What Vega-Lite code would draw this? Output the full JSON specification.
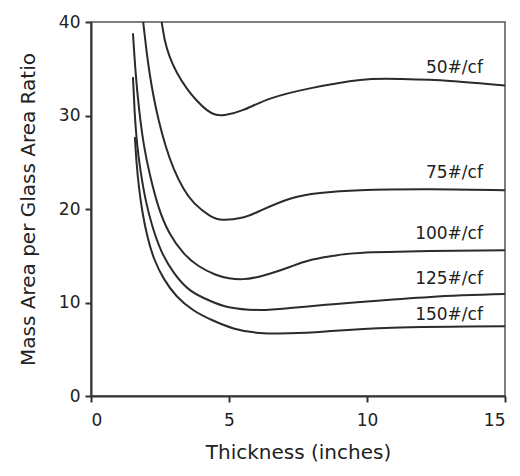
{
  "$schema": "https://vega.github.io/schema/vega-lite/v6.json",
  "autosize": {"type": "none"},
  "padding": {"left": 91, "top": 22, "right": 15, "bottom": 80},
  "width": 414,
  "height": 374,
  "background": "white",
  "datasets": {
    "curves": [
      {"series": "50", "x": 2.56, "y": 40.0},
      {"series": "50", "x": 2.68, "y": 38.0},
      {"series": "50", "x": 2.85, "y": 36.3},
      {"series": "50", "x": 3.11, "y": 34.6},
      {"series": "50", "x": 3.47, "y": 32.9},
      {"series": "50", "x": 3.83, "y": 31.6},
      {"series": "50", "x": 4.19, "y": 30.6},
      {"series": "50", "x": 4.5, "y": 30.1},
      {"series": "50", "x": 4.85, "y": 30.05},
      {"series": "50", "x": 5.52, "y": 30.6},
      {"series": "50", "x": 6.49, "y": 31.8},
      {"series": "50", "x": 7.93, "y": 32.9},
      {"series": "50", "x": 9.75, "y": 33.8},
      {"series": "50", "x": 11.2, "y": 33.9},
      {"series": "50", "x": 13.0, "y": 33.7},
      {"series": "50", "x": 15.0, "y": 33.2},

      {"series": "75", "x": 1.89, "y": 40.0},
      {"series": "75", "x": 2.0, "y": 37.2},
      {"series": "75", "x": 2.12, "y": 34.6},
      {"series": "75", "x": 2.27, "y": 32.0},
      {"series": "75", "x": 2.46, "y": 29.4},
      {"series": "75", "x": 2.7, "y": 26.8},
      {"series": "75", "x": 3.0, "y": 24.3},
      {"series": "75", "x": 3.35, "y": 22.2},
      {"series": "75", "x": 3.75, "y": 20.6},
      {"series": "75", "x": 4.3, "y": 19.3},
      {"series": "75", "x": 4.8, "y": 18.85},
      {"series": "75", "x": 5.5, "y": 19.1},
      {"series": "75", "x": 6.12, "y": 19.8},
      {"series": "75", "x": 7.21, "y": 21.1},
      {"series": "75", "x": 8.3, "y": 21.7},
      {"series": "75", "x": 9.75, "y": 22.0},
      {"series": "75", "x": 12.3, "y": 22.1},
      {"series": "75", "x": 15.0, "y": 22.0},

      {"series": "100", "x": 1.52, "y": 38.8},
      {"series": "100", "x": 1.62, "y": 34.5},
      {"series": "100", "x": 1.75, "y": 30.5},
      {"series": "100", "x": 1.92, "y": 26.8},
      {"series": "100", "x": 2.14, "y": 23.6},
      {"series": "100", "x": 2.45, "y": 20.2},
      {"series": "100", "x": 2.85, "y": 17.4},
      {"series": "100", "x": 3.35, "y": 15.3},
      {"series": "100", "x": 3.9, "y": 13.9},
      {"series": "100", "x": 4.5, "y": 13.0},
      {"series": "100", "x": 5.0, "y": 12.6},
      {"series": "100", "x": 5.5, "y": 12.5},
      {"series": "100", "x": 6.0, "y": 12.7},
      {"series": "100", "x": 6.5, "y": 13.1},
      {"series": "100", "x": 7.2, "y": 13.8},
      {"series": "100", "x": 7.9, "y": 14.5},
      {"series": "100", "x": 8.8, "y": 15.0},
      {"series": "100", "x": 9.75, "y": 15.3},
      {"series": "100", "x": 12.3, "y": 15.5},
      {"series": "100", "x": 15.0, "y": 15.6},

      {"series": "125", "x": 1.52, "y": 34.1},
      {"series": "125", "x": 1.58, "y": 30.5},
      {"series": "125", "x": 1.67, "y": 27.0},
      {"series": "125", "x": 1.8, "y": 24.0},
      {"series": "125", "x": 1.98, "y": 21.0},
      {"series": "125", "x": 2.22, "y": 18.2},
      {"series": "125", "x": 2.55, "y": 15.5},
      {"series": "125", "x": 3.0, "y": 13.2},
      {"series": "125", "x": 3.6, "y": 11.3},
      {"series": "125", "x": 4.3, "y": 10.2},
      {"series": "125", "x": 5.0, "y": 9.5},
      {"series": "125", "x": 6.1, "y": 9.2},
      {"series": "125", "x": 7.2, "y": 9.4},
      {"series": "125", "x": 8.5, "y": 9.75},
      {"series": "125", "x": 9.75, "y": 10.05},
      {"series": "125", "x": 12.3, "y": 10.6},
      {"series": "125", "x": 15.0, "y": 10.9},

      {"series": "150", "x": 1.59, "y": 27.7},
      {"series": "150", "x": 1.65, "y": 25.0},
      {"series": "150", "x": 1.74, "y": 22.3},
      {"series": "150", "x": 1.87, "y": 19.6},
      {"series": "150", "x": 2.05, "y": 17.0},
      {"series": "150", "x": 2.3, "y": 14.6},
      {"series": "150", "x": 2.65, "y": 12.5},
      {"series": "150", "x": 3.1, "y": 10.7},
      {"series": "150", "x": 3.7, "y": 9.2},
      {"series": "150", "x": 4.4, "y": 8.1},
      {"series": "150", "x": 5.2, "y": 7.2},
      {"series": "150", "x": 6.1, "y": 6.75},
      {"series": "150", "x": 7.2, "y": 6.7},
      {"series": "150", "x": 8.5, "y": 6.9},
      {"series": "150", "x": 10.9, "y": 7.3},
      {"series": "150", "x": 15.0, "y": 7.45}
    ],
    "labels": [
      {"label": "50#/cf", "x": 14.2, "y": 35.1},
      {"label": "75#/cf", "x": 14.2, "y": 23.9},
      {"label": "100#/cf", "x": 14.2, "y": 17.3},
      {"label": "125#/cf", "x": 14.2, "y": 12.5},
      {"label": "150#/cf", "x": 14.2, "y": 8.7}
    ]
  },
  "layer": [
    {
      "data": {"name": "curves"},
      "mark": {"type": "line", "interpolate": "natural", "color": "#2b2b2b", "strokeWidth": 2, "clip": true},
      "encoding": {
        "x": {
          "field": "x", "type": "quantitative",
          "scale": {"domain": [0, 15], "nice": false},
          "axis": {"values": [0, 5, 10, 15], "title": "Thickness (inches)", "labelPadding": 10, "titlePadding": 14}
        },
        "y": {
          "field": "y", "type": "quantitative",
          "scale": {"domain": [0, 40], "nice": false},
          "axis": {"values": [0, 10, 20, 30, 40], "title": "Mass Area per Glass Area Ratio", "labelPadding": 5, "titlePadding": 20}
        },
        "detail": {"field": "series", "type": "nominal"}
      }
    },
    {
      "data": {"name": "labels"},
      "mark": {"type": "text", "align": "right", "baseline": "middle", "font": "DejaVu Sans", "fontSize": 17, "color": "#222222"},
      "encoding": {
        "x": {"field": "x", "type": "quantitative"},
        "y": {"field": "y", "type": "quantitative"},
        "text": {"field": "label", "type": "nominal"}
      }
    }
  ],
  "config": {
    "view": {"stroke": "#555555", "strokeWidth": 1.5},
    "axis": {
      "grid": false,
      "domainColor": "#333333",
      "domainWidth": 2,
      "tickColor": "#333333",
      "tickWidth": 2,
      "tickSize": 6,
      "labelFont": "DejaVu Sans",
      "labelFontSize": 17,
      "labelColor": "#222222",
      "titleFont": "DejaVu Sans",
      "titleFontSize": 20,
      "titleFontWeight": "normal",
      "titleColor": "#222222"
    }
  }
}
